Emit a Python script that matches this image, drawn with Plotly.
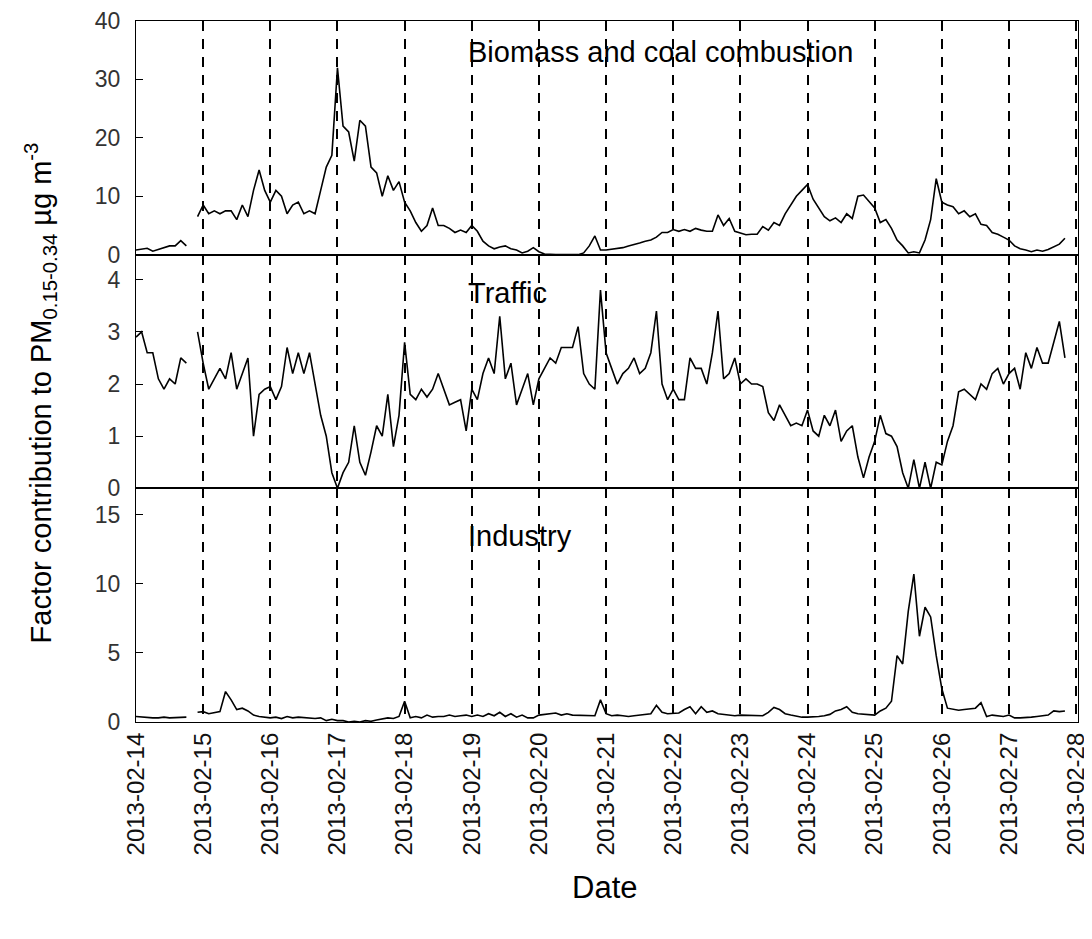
import pandas as pd
import plotly.graph_objects as go
from plotly.subplots import make_subplots

# 2-hourly timestamps, 2013-02-14 00:00 .. 2013-02-27 22:00
times = pd.date_range("2013-02-14 00:00", periods=168, freq="2h")

biomass = [
    0.8, 1.0, 1.1, 0.6, 0.9, 1.3, 1.5, 1.5, 2.4, 1.5, None, 6.5,      # 02-14
    8.5, 7.0, 7.5, 7.0, 7.5, 7.5, 6.0, 8.5, 6.5, 11, 14.5, 11,        # 02-15
    9, 11, 10, 7, 8.5, 9, 7, 7.5, 7, 11, 15, 17,                      # 02-16
    32, 22, 21, 16, 23, 22, 15, 14, 10, 13.5, 11, 12.5,               # 02-17
    9, 7.5, 5.5, 4, 5, 8, 5, 5, 4.5, 3.8, 4.2, 3.8,                   # 02-18
    5, 4, 2.3, 1.5, 1.0, 1.3, 1.5, 1.0, 0.8, 0.3, 0.6, 1.2,           # 02-19
    0.5, 0.1, 0, 0, 0, 0, 0, 0, 0.3, 1.5, 3.2, 0.8,                   # 02-20
    0.8, 0.9, 1.0, 1.2, 1.5, 1.7, 2.0, 2.3, 2.5, 3.0, 3.8, 3.8,       # 02-21
    4.3, 4.0, 4.3, 4.0, 4.5, 4.2, 4.0, 4.0, 6.8, 5.0, 6.2, 4.0,       # 02-22
    3.7, 3.4, 3.5, 3.5, 4.8, 4.2, 5.5, 5.0, 7.0, 8.5, 10.0, 11.0,     # 02-23
    12, 9.5, 8, 6.5, 5.8, 6.3, 5.5, 7.0, 6.2, 10.0, 10.2, 9.0,        # 02-24
    8, 5.5, 6.0, 4.5, 2.5, 1.5, 0.3, 0.5, 0.3, 2.5, 6.0, 13.0,        # 02-25
    9, 8.5, 8.2, 7.0, 7.5, 6.5, 7.0, 5.2, 5.0, 3.8, 3.5, 3.0,         # 02-26
    2.5, 1.5, 1.0, 0.8, 0.5, 0.8, 0.6, 0.9, 1.3, 1.8, 2.8, None,      # 02-27
]

traffic = [
    2.9, 3.0, 2.6, 2.6, 2.1, 1.9, 2.1, 2.0, 2.5, 2.4, None, 3.0,
    2.4, 1.9, 2.1, 2.3, 2.1, 2.6, 1.9, 2.2, 2.5, 1.0, 1.8, 1.9,
    1.95, 1.7, 1.95, 2.7, 2.2, 2.6, 2.2, 2.6, 2.0, 1.4, 1.0, 0.3,
    0.0, 0.3, 0.5, 1.2, 0.5, 0.25, 0.7, 1.2, 1.0, 1.8, 0.8, 1.4,
    2.8, 1.8, 1.7, 1.9, 1.75, 1.9, 2.2, 1.9, 1.6, 1.65, 1.7, 1.1,
    1.9, 1.7, 2.2, 2.5, 2.2, 3.3, 2.1, 2.4, 1.6, 1.9, 2.2, 1.6,
    2.1, 2.3, 2.5, 2.4, 2.7, 2.7, 2.7, 3.1, 2.2, 2.0, 1.9, 3.8,
    2.6, 2.3, 2.0, 2.2, 2.3, 2.5, 2.2, 2.3, 2.6, 3.4, 2.0, 1.7,
    1.9, 1.7, 1.7, 2.5, 2.3, 2.3, 2.0, 2.6, 3.4, 2.1, 2.2, 2.5,
    2.0, 2.1, 2.0, 2.0, 1.95, 1.45, 1.3, 1.6, 1.4, 1.2, 1.25, 1.2,
    1.5, 1.1, 1.0, 1.4, 1.2, 1.5, 0.9, 1.1, 1.2, 0.6, 0.2, 0.6,
    0.9, 1.4, 1.05, 1.0, 0.8, 0.3, 0.0, 0.55, 0.0, 0.5, 0.0, 0.5,
    0.45, 0.9, 1.2, 1.85, 1.9, 1.8, 1.7, 2.0, 1.9, 2.2, 2.3, 2.0,
    2.2, 2.3, 1.9, 2.6, 2.3, 2.7, 2.4, 2.4, 2.8, 3.2, 2.5, None,
]

industry = [
    0.4, 0.35, 0.35, 0.3, 0.3, 0.35, 0.3, 0.3, 0.35, 0.35, None, 0.7,
    0.75, 0.6, 0.7, 0.75, 2.2, 1.6, 0.9, 1.0, 0.8, 0.5, 0.4, 0.35,
    0.3, 0.35, 0.25, 0.4, 0.3, 0.35, 0.3, 0.3, 0.25, 0.3, 0.1, 0.2,
    0.1, 0.1, 0.0, 0.05, 0.0, 0.1, 0.05, 0.15, 0.2, 0.3, 0.25, 0.4,
    1.5, 0.3, 0.4, 0.3, 0.5, 0.35, 0.4, 0.4, 0.5, 0.4, 0.45, 0.5,
    0.4, 0.5, 0.4, 0.6, 0.45, 0.7, 0.4, 0.6, 0.35, 0.5, 0.3, 0.3,
    0.5, 0.55, 0.55, 0.65, 0.5, 0.6, 0.5, 0.5, 0.5, 0.5, 0.45, 1.6,
    0.6, 0.45, 0.5, 0.45, 0.4, 0.45, 0.5, 0.6, 0.6, 1.2, 0.7, 0.6,
    0.6, 0.65, 0.9, 1.1, 0.6, 1.1, 0.7, 0.8, 0.6, 0.55, 0.45, 0.45,
    0.5, 0.5, 0.5, 0.45, 0.45, 0.7, 1.05, 0.9, 0.6, 0.5, 0.4, 0.35,
    0.35, 0.35, 0.4, 0.45, 0.55, 0.8, 0.9, 1.1, 0.7, 0.6, 0.55, 0.5,
    0.5, 0.8, 1.0, 1.5, 4.8, 4.2, 8.0, 10.7, 6.2, 8.3, 7.6, 4.8,
    2.4, 1.0, 0.9, 0.85, 0.9, 0.95, 1.0, 1.4, 0.4, 0.5, 0.45, 0.4,
    0.5, 0.3, 0.3, 0.3, 0.35, 0.4, 0.45, 0.5, 0.8, 0.75, 0.8, None,
]

panel_labels = ["Biomass and coal combustion", "Traffic", "Industry"]
y_ranges = [[0, 40], [0, 4.48], [0, 16.9]]
y_dticks = [10, 1, 5]

FONT = "Arial, Liberation Sans, sans-serif"

fig = make_subplots(rows=3, cols=1, shared_xaxes=True, vertical_spacing=0)

for i, ser in enumerate([biomass, traffic, industry], start=1):
    fig.add_trace(
        go.Scatter(x=times, y=ser, mode="lines",
                   line=dict(color="black", width=1.6),
                   connectgaps=False, showlegend=False),
        row=i, col=1,
    )

for i in range(1, 4):
    fig.update_xaxes(
        row=i, col=1,
        type="date",
        range=["2013-02-14 00:00", "2013-02-28 00:40"],
        tick0="2013-02-14", dtick=86400000,
        showgrid=True, gridcolor="black", gridwidth=1.5, griddash="10px,8px",
        showline=True, linecolor="black", linewidth=1.2, mirror=True,
        zeroline=False, automargin=False,
        showticklabels=(i == 3),
        tickformat="%Y-%m-%d", tickangle=-90,
        tickfont=dict(family=FONT, size=24, color="#111"),
        ticklabeloverflow="allow",
        ticks="",
    )
    fig.update_yaxes(
        row=i, col=1,
        range=y_ranges[i - 1], dtick=y_dticks[i - 1], tick0=0,
        showgrid=False, zeroline=False, automargin=False,
        showline=True, linecolor="black", linewidth=1.2, mirror=True,
        ticks="inside", ticklen=7, tickcolor="black", tickwidth=1,
        ticklabelstandoff=10, ticklabeloverflow="allow",
        tickfont=dict(family=FONT, size=23, color="#333"),
    )

label_y = [0.956, 0.612, 0.266]
for txt, yy in zip(panel_labels, label_y):
    fig.add_annotation(
        text=txt, xref="paper", yref="paper", x=0.350, y=yy,
        xanchor="left", yanchor="middle", showarrow=False,
        font=dict(family=FONT, size=29, color="black"),
    )

fig.add_annotation(
    text="Factor contribution to PM<sub>0.15-0.34</sub> µg m<sup>-3</sup>",
    xref="paper", yref="paper", x=-0.102, y=0.47,
    xanchor="center", yanchor="middle", textangle=-90, showarrow=False,
    font=dict(family=FONT, size=29, color="black"),
)
fig.add_annotation(
    text="Date", xref="paper", yref="paper", x=0.497, y=-0.236,
    xanchor="center", yanchor="middle", showarrow=False,
    font=dict(family=FONT, size=31, color="black"),
)

fig.update_layout(
    width=1084, height=931,
    margin=dict(l=128, r=14, t=13, b=217),
    plot_bgcolor="white", paper_bgcolor="white",
)

fig.write_html("out.html")
